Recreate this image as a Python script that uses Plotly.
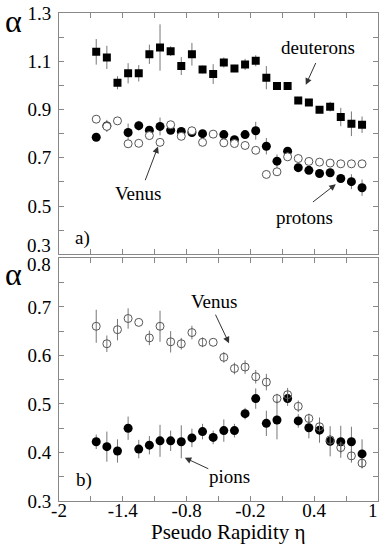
import plotly.graph_objects as go

# pseudo rapidity bins (same for both panels)
eta = [-1.65, -1.55, -1.45, -1.35, -1.25, -1.15, -1.05, -0.95, -0.85, -0.75,
       -0.65, -0.55, -0.45, -0.35, -0.25, -0.15, -0.05, 0.05, 0.15, 0.25,
       0.35, 0.45, 0.55, 0.65, 0.75, 0.85]

# panel a)
deuterons = [1.139, 1.116, 1.011, 1.050, 1.050, 1.129, 1.157, 1.142, 1.080, 1.129,
             1.066, 1.047, 1.095, 1.070, 1.087, 1.102, 1.032, 0.998, 0.998, 0.937,
             0.929, 0.899, 0.912, 0.869, 0.841, 0.837]
deuteron_err = [0.053, 0.048, 0.027, 0.042, 0.034, 0.040, 0.096, 0.020, 0.037, 0.047,
                0.016, 0.041, 0.021, 0.015, 0.023, 0.023, 0.048, 0.0, 0.0, 0.012,
                0.010, 0.010, 0.020, 0.038, 0.051, 0.034]
protons = [0.785, 0.832, None, 0.805, 0.833, 0.814, 0.830, 0.814, 0.809, 0.805,
           0.800, None, 0.796, 0.775, 0.796, 0.812, 0.748, 0.686, 0.727, 0.659,
           0.648, 0.635, 0.638, 0.614, 0.601, 0.576]
proton_err = [0.012, 0.025, 0.0, 0.037, 0.020, 0.015, 0.037, 0.015, 0.012, 0.012,
              0.015, 0.0, 0.015, 0.012, 0.012, 0.037, 0.034, 0.028, 0.012, 0.012,
              0.012, 0.012, 0.015, 0.015, 0.031, 0.034]
venus_a = [0.860, 0.830, 0.853, 0.758, 0.760, 0.792, 0.764, 0.837, 0.789, 0.812,
           0.764, 0.798, 0.762, 0.759, 0.751, 0.731, 0.631, 0.642, 0.704, 0.697,
           0.685, 0.682, 0.678, 0.675, 0.675, 0.675]

# panel b)
pions = [0.422, 0.412, 0.403, 0.450, 0.407, 0.415, 0.424, 0.424, 0.422, 0.430,
         0.443, 0.431, 0.445, 0.445, 0.480, 0.511, 0.460, 0.467, 0.511, 0.465,
         0.451, 0.446, 0.423, 0.422, 0.422, 0.397]
pion_err = [0.015, 0.031, 0.024, 0.024, 0.019, 0.019, 0.033, 0.021, 0.034, 0.019,
            0.016, 0.014, 0.023, 0.014, 0.012, 0.021, 0.026, 0.040, 0.015, 0.014,
            0.022, 0.026, 0.031, 0.033, 0.031, 0.030]
venus_b = [0.660, 0.624, 0.653, 0.676, 0.668, 0.636, 0.660, 0.628, 0.624, 0.647,
           0.627, 0.627, 0.596, 0.573, 0.576, 0.556, 0.545, 0.511, 0.519, 0.495,
           0.470, 0.453, 0.426, 0.410, 0.393, 0.378]
venus_b_err = [0.034, 0.017, 0.022, 0.021, 0.0, 0.015, 0.032, 0.022, 0.012, 0.014,
               0.010, 0.0, 0.011, 0.012, 0.014, 0.014, 0.017, 0.010, 0.014, 0.012,
               0.010, 0.010, 0.010, 0.012, 0.014, 0.010]

# ticks (the last x label "1" is drawn separately so it stays inside the page)
x_ticks = [-2.0, -1.7, -1.4, -1.1, -0.8, -0.5, -0.2, 0.1, 0.4, 0.7, 1.0]
x_labels = ['-2', '', '-1.4', '', '-0.8', '', '-0.2', '', '0.4', '', '']
ya_ticks = [0.3, 0.4, 0.5, 0.6, 0.7, 0.8, 0.9, 1.0, 1.1, 1.2, 1.3]
ya_labels = ['', '', '0.5', '', '0.7', '', '0.9', '', '1.1', '', '1.3']
yb_ticks = [0.3, 0.35, 0.4, 0.45, 0.5, 0.55, 0.6, 0.65, 0.7, 0.75, 0.8]
yb_labels = ['0.3', '', '0.4', '', '0.5', '', '0.6', '', '0.7', '', '']

FONT = 'Liberation Serif, Times New Roman, serif'
ERR = dict(type='data', thickness=1, width=0, color='#777')


def err(vals):
    return dict(ERR, array=vals)


fig = go.Figure()

# panel a
fig.add_trace(go.Scatter(x=eta, y=deuterons, mode='markers', error_y=err(deuteron_err),
                         marker=dict(symbol='square', size=8, color='black'),
                         xaxis='x', yaxis='y'))
fig.add_trace(go.Scatter(x=eta, y=protons, mode='markers', error_y=err(proton_err),
                         marker=dict(symbol='circle', size=9, color='black'),
                         xaxis='x', yaxis='y'))
fig.add_trace(go.Scatter(x=eta, y=venus_a, mode='markers',
                         marker=dict(symbol='circle', size=8, color='white',
                                     line=dict(color='#555', width=1)),
                         xaxis='x', yaxis='y'))

# panel b
fig.add_trace(go.Scatter(x=eta, y=pions, mode='markers', error_y=err(pion_err),
                         marker=dict(symbol='circle', size=9, color='black'),
                         xaxis='x2', yaxis='y2'))
fig.add_trace(go.Scatter(x=eta, y=venus_b, mode='markers', error_y=err(venus_b_err),
                         marker=dict(symbol='circle-open', size=8, color='#555',
                                     line=dict(width=1)),
                         xaxis='x2', yaxis='y2'))

axis_style = dict(showline=True, linecolor='#888', linewidth=1, mirror='ticks',
                  ticks='inside', ticklen=5, tickcolor='#888', tickwidth=1,
                  showgrid=False, zeroline=False,
                  tickfont=dict(family=FONT, size=19, color='black'))

fig.update_layout(
    width=381, height=553,
    margin=dict(l=59, r=3, t=13, b=52, autoexpand=False),
    plot_bgcolor='white', paper_bgcolor='white',
    showlegend=False,
    xaxis=dict(axis_style, domain=[0, 1], range=[-2, 1], anchor='y',
               tickvals=x_ticks, showticklabels=False),
    yaxis=dict(axis_style, domain=[0.5055, 1], range=[0.3, 1.3], anchor='x',
               tickvals=ya_ticks, ticktext=ya_labels, ticklabelstandoff=3),
    xaxis2=dict(axis_style, domain=[0, 1], range=[-2, 1], anchor='y2',
                tickvals=x_ticks, ticktext=x_labels, ticklabelstandoff=-8),
    yaxis2=dict(axis_style, domain=[0, 0.4973], range=[0.3, 0.8], anchor='x2',
                tickvals=yb_ticks, ticktext=yb_labels, ticklabelstandoff=3),
)

txt = dict(family=FONT, size=19, color='black')
notes = [
    # text labels (data coords)
    dict(text='deuterons', x=0.434, y=1.158, xref='x', yref='y'),
    dict(text='Venus', x=-1.26, y=0.554, xref='x', yref='y'),
    dict(text='protons', x=0.311, y=0.451, xref='x', yref='y'),
    dict(text='a)', x=-1.782, y=0.368, xref='x', yref='y'),
    dict(text='Venus', x=-0.545, y=0.710, xref='x2', yref='y2'),
    dict(text='pions', x=-0.394, y=0.3515, xref='x2', yref='y2'),
    dict(text='b)', x=-1.768, y=0.343, xref='x2', yref='y2'),
]
for n in notes:
    fig.add_annotation(n, showarrow=False, font=txt)

arrows = [
    # head (x, y), tail (ax, ay)
    dict(x=0.321, y=1.0025, ax=0.421, ay=1.099, xref='x', yref='y', axref='x', ayref='y'),
    dict(x=-1.069, y=0.7465, ax=-1.194, ay=0.601, xref='x', yref='y', axref='x', ayref='y'),
    dict(x=0.603, y=0.5905, ax=0.374, ay=0.512, xref='x', yref='y', axref='x', ayref='y'),
    dict(x=-0.401, y=0.625, ax=-0.535, ay=0.687, xref='x2', yref='y2', axref='x2', ayref='y2'),
    dict(x=-0.817, y=0.389, ax=-0.582, ay=0.365, xref='x2', yref='y2', axref='x2', ayref='y2'),
]
for a in arrows:
    fig.add_annotation(a, text='', showarrow=True, arrowhead=2, arrowsize=1.3,
                       arrowwidth=1, arrowcolor='#333')

# boundary tick labels nudged inside their own panel / the page
fig.add_annotation(text='0.3', x=0, y=0.3, xref='paper', yref='y', xanchor='right',
                   xshift=-6, yshift=9, showarrow=False, font=txt)
fig.add_annotation(text='0.8', x=0, y=0.8, xref='paper', yref='y2', xanchor='right',
                   xshift=-6, yshift=-6, showarrow=False, font=txt)
fig.add_annotation(text='1', x=1, y=0, xref='paper', yref='paper', xanchor='right',
                   yanchor='middle', xshift=2, yshift=-9, showarrow=False, font=txt)

# alpha labels and x title
alpha = dict(family=FONT, size=32, color='black')
fig.add_annotation(text='α', x=0, y=1.3, xref='paper', yref='y', xanchor='center',
                   xshift=-46, yshift=-8, showarrow=False, font=alpha)
fig.add_annotation(text='α', x=0, y=0.8, xref='paper', yref='y2', xanchor='center',
                   xshift=-46, yshift=-16, showarrow=False, font=alpha)
fig.add_annotation(text='Pseudo Rapidity η', x=0.531, y=-0.063, xref='paper', yref='paper',
                   xanchor='center', yanchor='middle', showarrow=False,
                   font=dict(family=FONT, size=21, color='black'))

# the page body has a default 8px margin; drop it so the figure sits at 0,0
fig.write_html("out.html", config={'displayModeBar': False},
               post_script="document.body.style.margin = '0';")
